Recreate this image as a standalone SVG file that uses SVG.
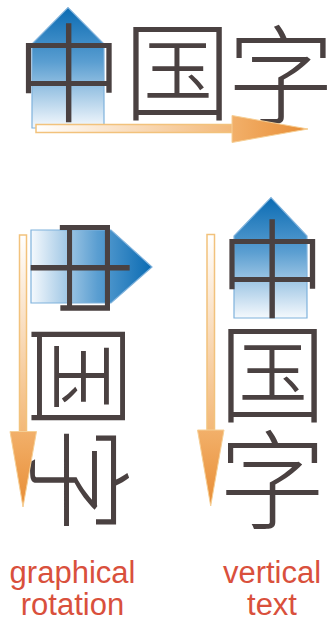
<svg xmlns="http://www.w3.org/2000/svg" width="328" height="622" viewBox="0 0 328 622">
<style>
.cjk{font-family:"Noto Sans CJK SC","Noto Sans CJK JP",sans-serif;font-size:108px;font-weight:300;fill:#4a4141;text-anchor:middle;dominant-baseline:central}
.lbl{font-family:"Liberation Sans",Arial,sans-serif;font-size:31px;fill:#d9503c;text-anchor:middle}
.house{stroke:#7fb2dc;stroke-width:1.2}
.shaft{stroke:#f2c27c;stroke-width:1.5}
.head{stroke:#f6cf95;stroke-width:1}
</style>
<defs>
<linearGradient id="blueUp" x1="0" y1="0" x2="0" y2="1">
<stop offset="0" stop-color="#0a6bb3"/>
<stop offset="0.45" stop-color="#5a9ed1"/>
<stop offset="1" stop-color="#f5f9fd"/>
</linearGradient>
<linearGradient id="blueRight" x1="0" y1="0" x2="1" y2="0">
<stop offset="0" stop-color="#f5f9fd"/>
<stop offset="0.55" stop-color="#5a9ed1"/>
<stop offset="1" stop-color="#0a6bb3"/>
</linearGradient>
<linearGradient id="shaftH" x1="0" y1="0" x2="1" y2="0">
<stop offset="0" stop-color="#ffffff"/>
<stop offset="1" stop-color="#f3b877"/>
</linearGradient>
<linearGradient id="shaftV" x1="0" y1="0" x2="0" y2="1">
<stop offset="0" stop-color="#ffffff"/>
<stop offset="1" stop-color="#f3b877"/>
</linearGradient>
<linearGradient id="headH" x1="0" y1="0" x2="1" y2="0">
<stop offset="0" stop-color="#f2b06a"/>
<stop offset="1" stop-color="#e88d35"/>
</linearGradient>
<linearGradient id="headV" x1="0" y1="0" x2="0" y2="1">
<stop offset="0" stop-color="#f2b06a"/>
<stop offset="1" stop-color="#e88d35"/>
</linearGradient>
</defs>

<g id="house-top">
<polygon class="house" points="32,128 32,44 68,7.5 104,44 104,128" fill="url(#blueUp)"/>
</g>
<g id="house-rotated">
<polygon class="house" points="31,230 111,230 152,267 111,303 31,303" fill="url(#blueRight)"/>
</g>
<g id="house-vertical">
<polygon class="house" points="234,318 234,236 271,197.5 307,236 307,318" fill="url(#blueUp)"/>
</g>

<g id="text-horizontal">
<text class="cjk" x="69" y="67">中</text>
<text class="cjk" x="177.5" y="65">国</text>
<text class="cjk" x="281" y="69">字</text>
</g>

<g id="text-rotated">
<text class="cjk" transform="translate(86,268) rotate(90)">中</text>
<text class="cjk" transform="translate(87,376) rotate(90)">国</text>
<text class="cjk" transform="translate(85,480) rotate(90)">字</text>
</g>

<g id="text-vertical">
<text class="cjk" x="272.5" y="263">中</text>
<text class="cjk" x="272.5" y="367">国</text>
<text class="cjk" x="272.5" y="474">字</text>
</g>

<g id="connectors">
<g id="arrow-right">
<rect class="shaft" x="36" y="124.5" width="197" height="8" fill="url(#shaftH)"/>
<polygon class="head" points="232,115.5 308,129 232,142.5" fill="url(#headH)"/>
</g>
<g id="arrow-down-left">
<rect class="shaft" x="19.5" y="235" width="7" height="197" fill="url(#shaftV)"/>
<polygon class="head" points="10,431.5 36.5,431.5 23,507" fill="url(#headV)"/>
</g>
<g id="arrow-down-right">
<rect class="shaft" x="207" y="234.5" width="7.5" height="196" fill="url(#shaftV)"/>
<polygon class="head" points="197.5,430 224,430 210.7,506" fill="url(#headV)"/>
</g>
</g>

<g id="label-graphical">
<text class="lbl" x="72.5" y="583">graphical</text>
<text class="lbl" x="72.5" y="615">rotation</text>
</g>
<g id="label-vertical">
<text class="lbl" x="272" y="583">vertical</text>
<text class="lbl" x="272" y="615">text</text>
</g>
</svg>
